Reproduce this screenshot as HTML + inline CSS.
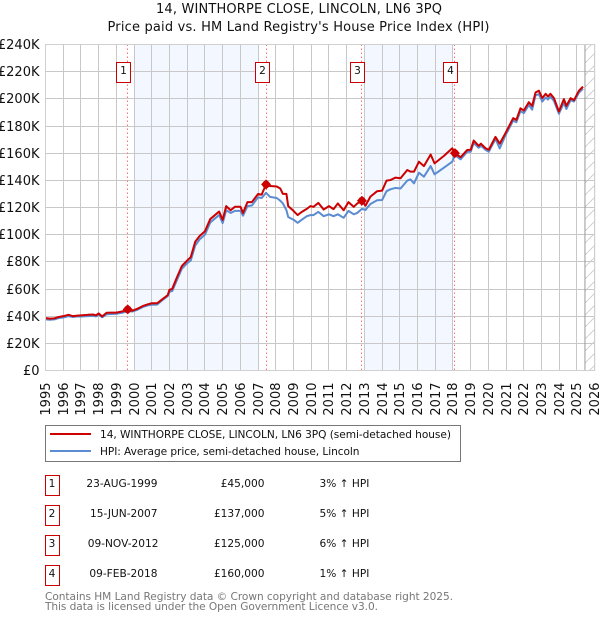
<!DOCTYPE html>
<html>
<head>
<meta charset="utf-8">
<title>14, Winthorpe Close price chart</title>
<style>
html,body{margin:0;padding:0;background:#fff;}
body{width:600px;height:620px;overflow:hidden;}
svg{display:block;font-family:"DejaVu Sans","Liberation Sans",sans-serif;fill:#111;}
</style>
</head>
<body>
<svg id="chart" width="600" height="620" viewBox="0 0 600 620" xmlns="http://www.w3.org/2000/svg">
  <defs>
    <pattern id="hatch" patternUnits="userSpaceOnUse" width="12" height="12">
      <line x1="-1" y1="13" x2="13" y2="-1" stroke="#c8c8c8" stroke-width="0.8"/>
    </pattern>
  </defs>
  <text x="299" y="13" text-anchor="middle" font-size="13" textLength="286">14, WINTHORPE CLOSE, LINCOLN, LN6 3PQ</text>
  <text x="298.5" y="31" text-anchor="middle" font-size="13" textLength="382">Price paid vs. HM Land Registry's House Price Index (HPI)</text>
  <g id="plot"></g>

  <g>
    <rect x="45.5" y="425.5" width="415" height="36" fill="#fff" stroke="#777" stroke-width="1"/>
    <line x1="50" y1="434" x2="91" y2="434" stroke="#cc0000" stroke-width="2"/>
    <text x="100" y="438" font-size="10.6" textLength="351">14, WINTHORPE CLOSE, LINCOLN, LN6 3PQ (semi-detached house)</text>
    <line x1="50" y1="451" x2="91" y2="451" stroke="#5b8bd0" stroke-width="2"/>
    <text x="100" y="455" font-size="10.6" textLength="259.5">HPI: Average price, semi-detached house, Lincoln</text>
  </g>

  <g font-size="10.6">
    <g>
      <rect x="45.5" y="475.5" width="14" height="20" fill="#fff" stroke="#cc0000"/>
      <text x="52" y="487" text-anchor="middle">1</text>
      <text x="157.5" y="487" text-anchor="end">23-AUG-1999</text>
      <text x="264.5" y="487" text-anchor="end">£45,000</text>
      <text x="319.5" y="487">3% ↑ HPI</text>
    </g>
    <g>
      <rect x="45.5" y="505.5" width="14" height="20" fill="#fff" stroke="#cc0000"/>
      <text x="52" y="517" text-anchor="middle">2</text>
      <text x="157.5" y="517" text-anchor="end">15-JUN-2007</text>
      <text x="264.5" y="517" text-anchor="end">£137,000</text>
      <text x="319.5" y="517">5% ↑ HPI</text>
    </g>
    <g>
      <rect x="45.5" y="535.5" width="14" height="20" fill="#fff" stroke="#cc0000"/>
      <text x="52" y="547" text-anchor="middle">3</text>
      <text x="158.5" y="547" text-anchor="end">09-NOV-2012</text>
      <text x="264.5" y="547" text-anchor="end">£125,000</text>
      <text x="319.5" y="547">6% ↑ HPI</text>
    </g>
    <g>
      <rect x="45.5" y="565.5" width="14" height="20" fill="#fff" stroke="#cc0000"/>
      <text x="52" y="577" text-anchor="middle">4</text>
      <text x="157.5" y="577" text-anchor="end">09-FEB-2018</text>
      <text x="264.5" y="577" text-anchor="end">£160,000</text>
      <text x="319.5" y="577">1% ↑ HPI</text>
    </g>
  </g>

  <text x="45" y="600" font-size="10.6" style="fill:#777" textLength="408">Contains HM Land Registry data © Crown copyright and database right 2025.</text>
  <text x="45" y="610" font-size="10.6" style="fill:#777" textLength="333">This data is licensed under the Open Government Licence v3.0.</text>
</svg>

<script>
var yearTicks = [1995,1996,1997,1998,1999,2000,2001,2002,2003,2004,2005,2006,2007,2008,2009,2010,2011,2012,2013,2014,2015,2016,2017,2018,2019,2020,2021,2022,2023,2024,2025,2026];
var priceTicks = [0,20,40,60,80,100,120,140,160,180,200,220,240];
var priceTickLabels = ['£0','£20K','£40K','£60K','£80K','£100K','£120K','£140K','£160K','£180K','£200K','£220K','£240K'];

var dates = [1995,1995.25,1995.5,1995.75,1996,1996.3,1996.55,1996.8,1997,1997.4,1997.7,1997.85,1998,1998.2,1998.45,1998.75,1999,1999.35,1999.64,1999.9,
2000.2,2000.5,2000.8,2001,2001.3,2001.6,2001.9,2002,2002.15,2002.4,2002.7,2003,2003.2,2003.45,2003.7,2004,2004.3,2004.8,2005,2005.2,2005.45,2005.7,2006,2006.15,2006.4,2006.65,2007,2007.2,2007.45,
2007.68,2008.05,2008.25,2008.4,2008.6,2008.7,2009,2009.23,2009.47,2009.75,2009.95,2010.13,2010.4,2010.7,2011,2011.26,2011.5,2011.83,2012.1,2012.4,2012.6,2012.86,
2013.06,2013.34,2013.72,2014,2014.25,2014.47,2014.75,2015.04,2015.42,2015.6,2015.8,2016.08,2016.36,2016.74,2016.96,2017.49,2017.96,2018.11,2018.43,2018.8,
2019,2019.17,2019.45,2019.58,2019.83,2020.02,2020.4,2020.64,2020.96,2021.4,2021.58,2021.81,2022,2022.28,2022.47,2022.66,2022.85,2023.04,2023.23,2023.36,2023.5,2023.7,2023.98,2024.26,2024.4,2024.64,2024.83,2025.11,2025.34];

var priceValues = [38.6,38.2,38.4,39.4,40,41,40,40.4,40.6,41,41.2,40.6,42,39.8,42.5,42.6,42.6,43.5,45,44,
45.5,47.5,48.8,49.5,49.5,52.5,55.5,59.5,60,68,77,81,83.5,94.8,99,102.5,111.5,117,110.9,121,118,120.6,120.6,116,124,124,130,129.5,137,
135.8,135.5,134,130,130,121,117.5,114.4,116.8,119,121,120.5,123.4,118.5,121,118.8,123,118,124,120.5,123,125,
121.3,128,132,132.4,139.8,140.2,142,141.5,147.6,146.4,146.4,153.7,150.5,159,152.5,158,163.6,160,157,162.3,
162.5,169.3,165.4,167,163.7,162.5,172,167,174.7,185.8,184.5,193,191.4,197.5,194.8,204.7,206,200.5,203.7,201.7,203.7,200.5,190.7,199.8,194.8,200.5,199,206,209];

var hpiValues = [37.6,37.4,37.6,38.6,39,40,39.4,39.8,39.8,40,40.2,39.8,41,39.2,41.4,41.6,41.8,42.6,43.7,43.4,
44.8,46.8,48,48.4,48.5,51.8,54.8,58,58.5,66,75,79,81,92,96.5,100,109,114.5,108.5,118,116,117.5,117.5,114,121,121.5,127.5,127,130.8,
127.8,127,125,123,118,113,111,108.7,111,113.6,114.4,114.4,116.8,113.6,115,113.6,115,112.4,117.5,115,116,119,
118.2,122.6,125.3,125.5,132,133.4,134.4,134,139.8,140.7,137.8,145.6,142.7,150.5,144.4,149.3,153.7,158.6,155.5,161,
161,167.5,164,165.5,162.5,161,170.5,163.5,173,184,182.8,191,189.5,195.5,192,202.5,203.5,198,201,199.5,201.5,198.5,189,197,192.5,199,198,204.5,207.5];

var saleDates = [1999.64,2007.45,2012.86,2018.11];
var saleValues = [45,137,125,160];
var saleLabels = ['1','2','3','4'];
var bandStarts = [2000,2013];
var bandEnds = [2007,2018];
var forecastStart = 2025.45;

var NS = 'http://www.w3.org/2000/svg';
var plot = document.getElementById('plot');
var L = 45.5, R = 594.7, T = 44.5, B = 370.5;
function xScale(year){ return L + (year - 1995) * (R - L) / 31; }
function yScale(value){ return B - value * (B - T) / 240; }
function snap(v){ return Math.floor(v + 0.01) + 0.5; }
function make(tag, attrs){
  var el = document.createElementNS(NS, tag);
  for (var k in attrs) el.setAttribute(k, attrs[k]);
  plot.appendChild(el);
  return el;
}
function linePath(xs, ys){
  var d = '';
  for (var i = 0; i < xs.length; i++) d += (i ? 'L' : 'M') + xScale(xs[i]).toFixed(2) + ' ' + yScale(ys[i]).toFixed(2);
  return d;
}

bandStarts.forEach(function(s, i){
  var band = make('rect', {x: snap(xScale(s)), y: T, width: snap(xScale(bandEnds[i])) - snap(xScale(s)), height: B - T, fill: '#f3f7ff'});
  
  
});

var hatch = make('rect', {x: xScale(forecastStart), y: T, width: R - xScale(forecastStart), height: B - T, fill: 'url(#hatch)'});



priceTicks.forEach(function(v, i){
  var y = snap(yScale(v));
  var g = make('line', {x1: L, x2: R, y1: y, y2: y, stroke: '#c8c8c8', 'stroke-width': 1});
  
  
  var t = make('text', {x: 39.5, y: y + 4.7, 'text-anchor': 'end', 'font-size': 13});
  
  
  t.textContent = priceTickLabels[i];
});

yearTicks.forEach(function(yr){
  var x = snap(xScale(yr));
  var g = make('line', {x1: x, x2: x, y1: T, y2: B, stroke: '#c8c8c8', 'stroke-width': 1});
  
  
  var t = make('text', {transform: 'translate(' + (x + 4.7) + ',382.5) rotate(-90)', 'text-anchor': 'end', 'font-size': 13});
  
  
  t.textContent = yr;
});

var fc = make('line', {x1: xScale(forecastStart), x2: xScale(forecastStart), y1: T, y2: B, stroke: '#999', 'stroke-width': 1});



saleDates.forEach(function(d, i){
  var x = snap(xScale(d));
  var v = make('line', {x1: x, x2: x, y1: T, y2: B, stroke: '#ff6f7f', 'stroke-width': 1, 'stroke-dasharray': '1.5 2.5'});
  
  
});

var hpiLine = make('path', {d: linePath(dates, hpiValues), fill: 'none', stroke: '#5b8bd0', 'stroke-width': 2, 'stroke-linejoin': 'round'});



var priceLine = make('path', {d: linePath(dates, priceValues), fill: 'none', stroke: '#cc0000', 'stroke-width': 2, 'stroke-linejoin': 'round'});



saleDates.forEach(function(d, i){
  var cx = xScale(d), cy = yScale(saleValues[i]);
  var c = make('circle', {cx: cx, cy: cy, r: 3.8, fill: '#cc0000'});
  
  
  var p = make('polygon', {points: (cx-5)+','+cy+' '+cx+','+(cy-5)+' '+(cx+5)+','+cy+' '+cx+','+(cy+5), fill: '#cc0000'});
  
  
  var bx = Math.floor(xScale(d)) - 10.5;
  var r = make('rect', {x: bx, y: 62.5, width: 14, height: 20, fill: '#fff', stroke: '#cc0000', 'stroke-width': 1});
  
  
  var t = make('text', {x: bx + 7, y: 74, 'text-anchor': 'middle', 'font-size': 10.6});
  
  
  t.textContent = saleLabels[i];
});

var frame = make('rect', {x: L, y: T, width: R - L, height: B - T, fill: 'none', stroke: '#d0d0d0', 'stroke-width': 1});


</script>
</body>
</html>
